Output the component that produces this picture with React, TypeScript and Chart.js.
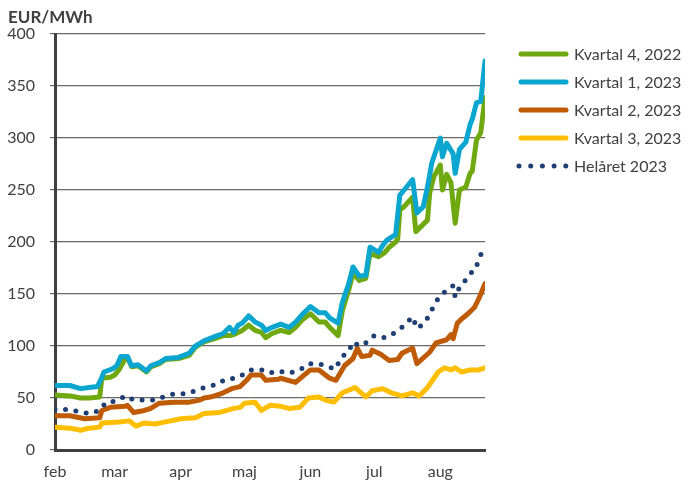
import React, { useEffect, useRef } from 'react';
import { Chart, registerables } from 'chart.js';

Chart.register(...registerables);

// x = days since 1 Feb
const monthLabels = ['feb', 'mar', 'apr', 'maj', 'jun', 'jul', 'aug'];
const monthStartDays = [0, 28, 59, 89, 120, 150, 181];
const yTickValues = [0, 50, 100, 150, 200, 250, 300, 350, 400];
const yUnitLabel = 'EUR/MWh';

const seriesLabels = ['Kvartal 4, 2022', 'Kvartal 1, 2023', 'Kvartal 2, 2023', 'Kvartal 3, 2023', 'Helåret 2023'];

const q4_2022: [number, number][] = [
  [0, 53], [7, 52], [12, 50], [16, 50], [21, 51], [22, 69], [26, 70], [28, 72], [30, 77], [33, 88], [34, 89],
  [36, 80], [39, 81], [43, 75], [45, 80], [49, 83], [52, 87], [58, 88], [63, 91], [66, 99], [70, 104], [75, 107],
  [79, 110], [82, 110], [84, 111], [86, 113], [88, 115], [91, 120], [94, 115], [97, 113], [99, 108], [102, 112],
  [106, 115], [110, 113], [113, 118], [116, 125], [120, 131], [124, 123], [127, 123], [129, 118], [133, 110],
  [135, 134], [138, 154], [140, 170], [143, 163], [146, 165], [148, 189], [152, 186], [155, 190], [157, 195],
  [160, 200], [161, 203], [162, 231], [164, 234], [168, 243], [169.5, 210], [172, 215], [175, 221], [176, 247],
  [178, 263], [181, 274], [182, 250], [184, 265], [186, 257], [188, 218], [190, 250], [193, 253], [195, 266],
  [196, 268], [198, 298], [200, 305], [202, 339],
];

const q1_2023: [number, number][] = [
  [0, 62], [7, 62], [12, 59], [16, 60], [20, 61], [22, 70], [23, 75], [27, 78], [29, 81], [31, 90], [34, 90],
  [36, 81], [39, 82], [43, 76], [45, 81], [49, 84], [52, 88], [58, 89], [63, 93], [66, 100], [70, 105], [75, 109],
  [79, 112], [82, 118], [84, 113], [86, 120], [88, 122], [91, 129], [94, 123], [97, 120], [99, 115], [102, 118],
  [106, 121], [110, 118], [113, 123], [116, 130], [120, 138], [124, 132], [127, 132], [129, 127], [133, 122],
  [135, 142], [138, 160], [140, 176], [143, 167], [146, 168], [148, 195], [152, 190], [154, 197], [156, 202],
  [160, 207], [162, 245], [164, 250], [168, 260], [170, 228], [173, 234], [175, 253], [177, 276], [181, 300],
  [182, 282], [184, 295], [187, 285], [188, 266], [190, 289], [193, 296], [195, 313], [196, 318], [198, 334],
  [200, 335], [202, 374],
];

const q2_2023: [number, number][] = [
  [0, 33], [7, 33], [14, 30], [21, 31], [22, 38], [26, 41], [33, 42], [34, 43], [37, 36], [42, 38], [45, 40],
  [49, 45], [56, 46], [63, 46], [68, 48], [70, 50], [73, 51], [75, 52], [79, 55], [83, 59], [87, 61], [90, 67],
  [92, 72], [97, 72], [99, 67], [105, 68], [106, 69], [113, 65], [117, 72], [120, 77], [124, 77], [129, 69],
  [132, 67], [136, 81], [140, 88], [142, 98], [144, 90], [148, 91], [149, 96], [153, 92], [157, 86], [161, 87],
  [163, 93], [168, 98], [170, 83], [176, 94], [179, 103], [184, 106], [186, 111], [187, 107], [189, 122],
  [191, 126], [194, 131], [197, 137], [199, 145], [202, 160],
];

const q3_2023: [number, number][] = [
  [0, 22], [7, 21], [12, 19], [16, 21], [21, 22], [22, 26], [30, 27], [35, 28], [38, 23], [42, 26], [47, 25],
  [52, 27], [59, 30], [66, 31], [70, 35], [77, 36], [84, 40], [87, 41], [89, 45], [94, 46], [97, 38], [101, 43],
  [106, 42], [110, 40], [115, 41], [119, 50], [124, 51], [127, 48], [131, 46], [135, 55], [141, 60], [146, 51],
  [149, 57], [154, 59], [158, 55], [163, 52], [168, 55], [171, 52], [175, 60], [180, 75], [183, 79], [186, 77],
  [188, 79], [191, 75], [195, 77], [199, 77], [202, 79],
];

const year_2023: [number, number][] = [
  [0, 39], [6, 39], [11, 37], [16, 35], [21, 38], [24, 46], [29, 47], [33, 52], [37, 48], [42, 48], [47, 48],
  [52, 52], [56, 54], [62, 54], [66, 57], [70, 60], [76, 63], [80, 68], [85, 69], [89, 73], [92, 77], [97, 77],
  [101, 74], [105, 76], [110, 74], [115, 77], [119, 83], [124, 83], [128, 80], [132, 78], [134, 88], [138, 95],
  [140, 104], [143, 100], [147, 104], [150, 110], [155, 108], [159, 112], [163, 118], [166, 124], [168, 128],
  [170, 117], [173, 121], [176, 130], [178, 139], [181, 149], [184, 153], [187, 158], [188, 147], [189, 153],
  [192, 161], [195, 170], [197, 172], [199, 182], [201, 193],
];

const seriesData = [q4_2022, q1_2023, q2_2023, q3_2023, year_2023];
const seriesColors = ['#6FA80F', '#0AA6CF', '#BF5A05', '#FFBF00', '#1F3F74'];

const FONT = 'Lato, "Open Sans", sans-serif';
const TEXT = '#404040';

const legendPlugin = {
  id: 'customLegendAndUnit',
  afterDraw(chart: any) {
    const ctx = chart.ctx as CanvasRenderingContext2D;
    ctx.save();
    chart.data.datasets.forEach((ds: any, i: number) => {
      const y = 54 + i * 28;
      ctx.strokeStyle = ds.borderColor;
      ctx.lineWidth = 5;
      ctx.lineCap = 'round';
      ctx.setLineDash(ds.borderDash ? [0, 11.7] : []);
      ctx.beginPath();
      ctx.moveTo(ds.borderDash ? 519 : 521, y);
      ctx.lineTo(566, y);
      ctx.stroke();
      ctx.setLineDash([]);
      ctx.fillStyle = TEXT;
      ctx.font = `16px ${FONT}`;
      ctx.textBaseline = 'middle';
      ctx.textAlign = 'left';
      ctx.fillText(ds.label, 574, y + 1);
    });
    ctx.font = `bold 17px ${FONT}`;
    ctx.fillStyle = TEXT;
    ctx.textBaseline = 'middle';
    ctx.textAlign = 'left';
    ctx.fillText(yUnitLabel, 8, 18);
    ctx.restore();
  },
};

export default function App() {
  const ref = useRef<HTMLCanvasElement | null>(null);

  useEffect(() => {
    document.body.style.margin = '0';
    const canvas = ref.current;
    if (!canvas) return;
    const datasets = seriesData.map((d, i) => ({
      label: seriesLabels[i],
      data: d.map(([x, y]) => ({ x, y })),
      borderColor: seriesColors[i],
      backgroundColor: seriesColors[i],
      borderWidth: 5,
      borderDash: i === 4 ? [0, 10.5] : undefined,
      borderCapStyle: 'round' as const,
      borderJoinStyle: 'round' as const,
      pointRadius: 0,
      tension: 0,
      fill: false,
      order: 5 - i,
    }));
    const chart = new Chart(canvas, {
      type: 'line',
      data: { datasets },
      plugins: [legendPlugin],
      options: {
        animation: false,
        responsive: false,
        events: [],
        layout: { padding: { top: 34, right: 204, bottom: 0, left: 0 } },
        plugins: { legend: { display: false }, tooltip: { enabled: false }, title: { display: false } },
        scales: {
          x: {
            type: 'linear',
            min: 0,
            max: 202,
            afterBuildTicks: (s: any) => {
              s.ticks = monthStartDays.map((v) => ({ value: v }));
            },
            afterFit: (s: any) => {
              s.height = 32;
              s.paddingLeft = 0;
              s.paddingRight = 0;
            },
            ticks: {
              autoSkip: false,
              maxRotation: 0,
              color: TEXT,
              font: { family: FONT, size: 16 },
              padding: 12,
              callback: (v: any) => {
                const idx = monthStartDays.indexOf(Number(v));
                return idx >= 0 ? monthLabels[idx] : '';
              },
            },
            grid: { display: false, drawTicks: false },
            border: { display: true, color: '#404040', width: 3 },
          },
          y: {
            min: 0,
            max: 400,
            afterBuildTicks: (s: any) => {
              s.ticks = yTickValues.map((v) => ({ value: v }));
            },
            afterFit: (s: any) => {
              s.width = 55;
              s.paddingTop = 0;
              s.paddingBottom = 0;
            },
            ticks: { color: TEXT, font: { family: FONT, size: 16 }, padding: 15 },
            grid: { color: '#6a6a6a', lineWidth: 1.2, tickLength: 5, drawTicks: true },
            border: { display: true, color: '#404040', width: 3 },
          },
        },
      },
    });
    return () => chart.destroy();
  }, []);

  return (
    <div style={{ width: 689, height: 482 }}>
      <canvas ref={ref} width={689} height={482} style={{ display: 'block' }} />
    </div>
  );
}
